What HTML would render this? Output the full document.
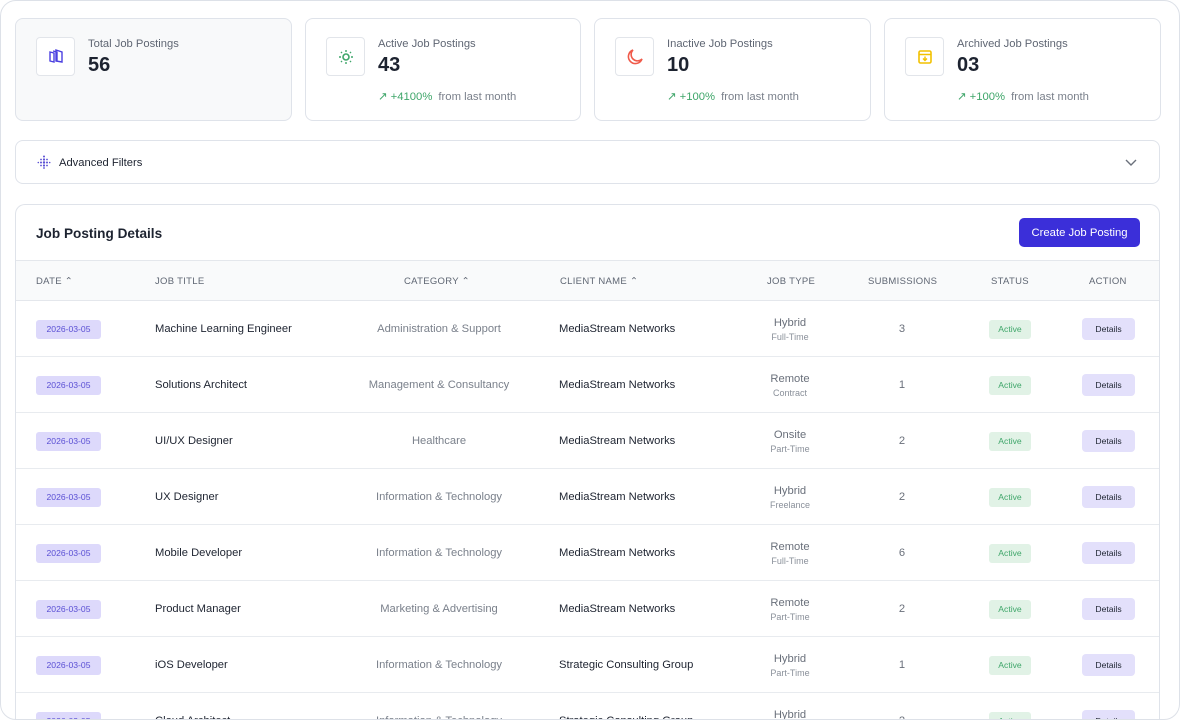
<!DOCTYPE html>
<html><head><meta charset="utf-8"><style>
*{box-sizing:border-box;margin:0;padding:0}
html,body{width:1180px;height:720px;overflow:hidden;background:#fff;font-family:"Liberation Sans",sans-serif;color:#1f2430}
.frame{position:absolute;left:0;top:0;width:1180px;height:720px;overflow:hidden}
.border{position:absolute;left:0;top:0;width:1180px;height:720px;border:1.5px solid #dde1e8;border-radius:16px;pointer-events:none}
.card{position:absolute;top:18px;height:103px;border:1px solid #dfe3ea;border-radius:8px;background:#fff}
.card .ic{position:absolute;left:20px;top:18px;width:39px;height:39px;border:1px solid #e2e5ea;border-radius:4px;display:flex;align-items:center;justify-content:center}
.card .lb{position:absolute;left:72px;top:19px;font-size:11.2px;color:#5f6673}
.card .num{position:absolute;left:72px;top:35px;font-size:20px;font-weight:bold;color:#1d2330}
.card .tr{position:absolute;left:72px;top:71px;font-size:11.3px;color:#7a808b}
.card .tr b{font-weight:normal;color:#3fa66a;margin-right:6px}
.filters{position:absolute;left:15px;top:140px;width:1145px;height:44px;border:1px solid #dfe3ea;border-radius:8px}
.panel{position:absolute;left:15px;top:204px;width:1145px;height:516px;border:1px solid #dfe3ea;border-bottom:none;border-radius:10px 10px 0 0;overflow:hidden}
.hdr{position:absolute;left:0;top:55px;width:100%;height:41px;background:#f9fafb;border-top:1px solid #e4e7ec;border-bottom:1px solid #e4e7ec}
.th{position:absolute;top:15px;font-size:9.5px;color:#5f6673;letter-spacing:.3px}
.row{position:absolute;left:0;width:100%;height:56px;border-bottom:1px solid #e8ebef}
.c{position:absolute;font-size:11.2px}
.date{left:20px;top:19px;width:65px;height:19px;background:#ddd9fb;border-radius:3px;color:#5a4fd4;font-size:8.6px;text-align:center;line-height:19px}
.title{left:139px;top:22px;color:#1d2330}
.cat{left:300px;width:246px;text-align:center;top:22px;color:#7a808b}
.cli{left:543px;top:22px;color:#1d2330}
.jt{left:724px;width:100px;text-align:center;top:15px;color:#6a707b;line-height:14px}
.jt small{display:block;font-size:9px;color:#8a909a}
.sub{left:836px;width:100px;text-align:center;top:22px;color:#6a707b}
.st{left:973px;top:19px;width:42px;height:19px;background:#e1f2e6;color:#3fa66a;border-radius:3px;font-size:8.6px;text-align:center;line-height:19px}
.det{left:1066px;top:17px;width:53px;height:22px;background:#e3e0fb;border-radius:4px;font-size:8.6px;text-align:center;line-height:22px;color:#1d2330}
</style></head><body>
<div class="frame">
<div class="card" style="left:15px;width:277px;background:#f8f9fa">
 <div class="ic" style="background:#fff"><svg width="16" height="16" viewBox="0 0 16 16"><path d="M2 3l4 1v9l-4-1z M5 2l4 1v9 M8 1l6 2v10l-6-1z" fill="none" stroke="#4a3fe0" stroke-width="1.4"/></svg></div>
 <div class="lb">Total Job Postings</div><div class="num">56</div></div>
<div class="card" style="left:305px;width:276px">
 <div class="ic"><svg width="16" height="16" viewBox="0 0 16 16"><circle cx="8" cy="8" r="3" fill="none" stroke="#3fa66a" stroke-width="1.6"/><g stroke="#3fa66a" stroke-width="1.4"><path d="M8 1v2M8 13v2M1 8h2M13 8h2M3 3l1 1M12 12l1 1M3 13l1-1M12 4l1-1"/></g></svg></div>
 <div class="lb">Active Job Postings</div><div class="num">43</div><div class="tr"><b>↗ +4100%</b>from last month</div></div>
<div class="card" style="left:594px;width:277px">
 <div class="ic"><svg width="18" height="18" viewBox="0 0 18 18"><path d="M7 2a7 7 0 1 0 9 9 6 6 0 0 1-9-9z" fill="none" stroke="#f05a4a" stroke-width="1.6"/></svg></div>
 <div class="lb">Inactive Job Postings</div><div class="num">10</div><div class="tr"><b>↗ +100%</b>from last month</div></div>
<div class="card" style="left:884px;width:277px">
 <div class="ic"><svg width="16" height="16" viewBox="0 0 16 16"><rect x="2" y="2" width="12" height="12" rx="1.5" fill="none" stroke="#f2c100" stroke-width="1.6"/><path d="M2 5.5h12M8 7.5v4M6 9.5l2 2 2-2" stroke="#f2c100" stroke-width="1.4" fill="none"/></svg></div>
 <div class="lb">Archived Job Postings</div><div class="num">03</div><div class="tr"><b>↗ +100%</b>from last month</div></div>
<div class="filters">
 <svg style="position:absolute;left:21px;top:14px" width="14" height="14" viewBox="0 0 14 14"><g fill="#5a4fd4"><circle cx="7" cy="1.5" r="1"/><circle cx="7" cy="4.5" r="1.1"/><circle cx="7" cy="7.5" r="1.2"/><circle cx="7" cy="10.5" r="1.1"/><circle cx="7" cy="13" r="0.9"/><circle cx="4" cy="4.5" r="0.9"/><circle cx="4" cy="7.5" r="1"/><circle cx="4" cy="10.5" r="0.9"/><circle cx="10" cy="4.5" r="0.9"/><circle cx="10" cy="7.5" r="1"/><circle cx="10" cy="10.5" r="0.9"/><circle cx="1.3" cy="7.5" r="0.8"/><circle cx="12.7" cy="7.5" r="0.8"/></g></svg>
 <span style="position:absolute;left:43px;top:16px;font-size:11.2px;color:#1d2330">Advanced Filters</span>
 <svg style="position:absolute;right:22px;top:18px" width="12" height="8" viewBox="0 0 12 8"><path d="M1 1l5 5 5-5" fill="none" stroke="#6a707b" stroke-width="1.4"/></svg></div>
<div class="panel">
 <div style="position:absolute;left:20px;top:21px;font-size:13.6px;font-weight:bold;color:#1d2330">Job Posting Details</div>
 <div style="position:absolute;left:1003px;top:13px;width:121px;height:29px;background:#3b2fd9;border-radius:5px;color:#fff;font-size:11.3px;text-align:center;line-height:30px">Create Job Posting</div>
 <div class="hdr">
  <div class="th" style="left:20px">DATE ⌃</div><div class="th" style="left:139px">JOB TITLE</div>
  <div class="th" style="left:388px">CATEGORY ⌃</div><div class="th" style="left:544px">CLIENT NAME ⌃</div>
  <div class="th" style="left:751px">JOB TYPE</div><div class="th" style="left:852px">SUBMISSIONS</div>
  <div class="th" style="left:975px">STATUS</div><div class="th" style="left:1073px">ACTION</div></div>
 <div id="rows"></div>
</div>
<div class="border"></div>
</div>
<script>
const titles=["Machine Learning Engineer","Solutions Architect","UI/UX Designer","UX Designer","Mobile Developer","Product Manager","iOS Developer","Cloud Architect"];
const cats=["Administration & Support","Management & Consultancy","Healthcare","Information & Technology","Information & Technology","Marketing & Advertising","Information & Technology","Information & Technology"];
const clients=["MediaStream Networks","MediaStream Networks","MediaStream Networks","MediaStream Networks","MediaStream Networks","MediaStream Networks","Strategic Consulting Group","Strategic Consulting Group"];
const modes=["Hybrid","Remote","Onsite","Hybrid","Remote","Remote","Hybrid","Hybrid"];
const kinds=["Full-Time","Contract","Part-Time","Freelance","Full-Time","Part-Time","Part-Time","Full-Time"];
const subs=[3,1,2,2,6,2,1,2];
const box=document.getElementById('rows');
titles.forEach((t,i)=>{
 const r=document.createElement('div');r.className='row';r.style.top=(96+i*56)+'px';
 
 
 r.innerHTML=`<div class="c date">2026-03-05</div><div class="c title">${t}</div><div class="c cat">${cats[i]}</div><div class="c cli">${clients[i]}</div><div class="c jt">${modes[i]}<small>${kinds[i]}</small></div><div class="c sub">${subs[i]}</div><div class="c st">Active</div><div class="c det">Details</div>`;
 const d=r.querySelector('.det');
 
 
 box.appendChild(r);
});
</script>
</body></html>
